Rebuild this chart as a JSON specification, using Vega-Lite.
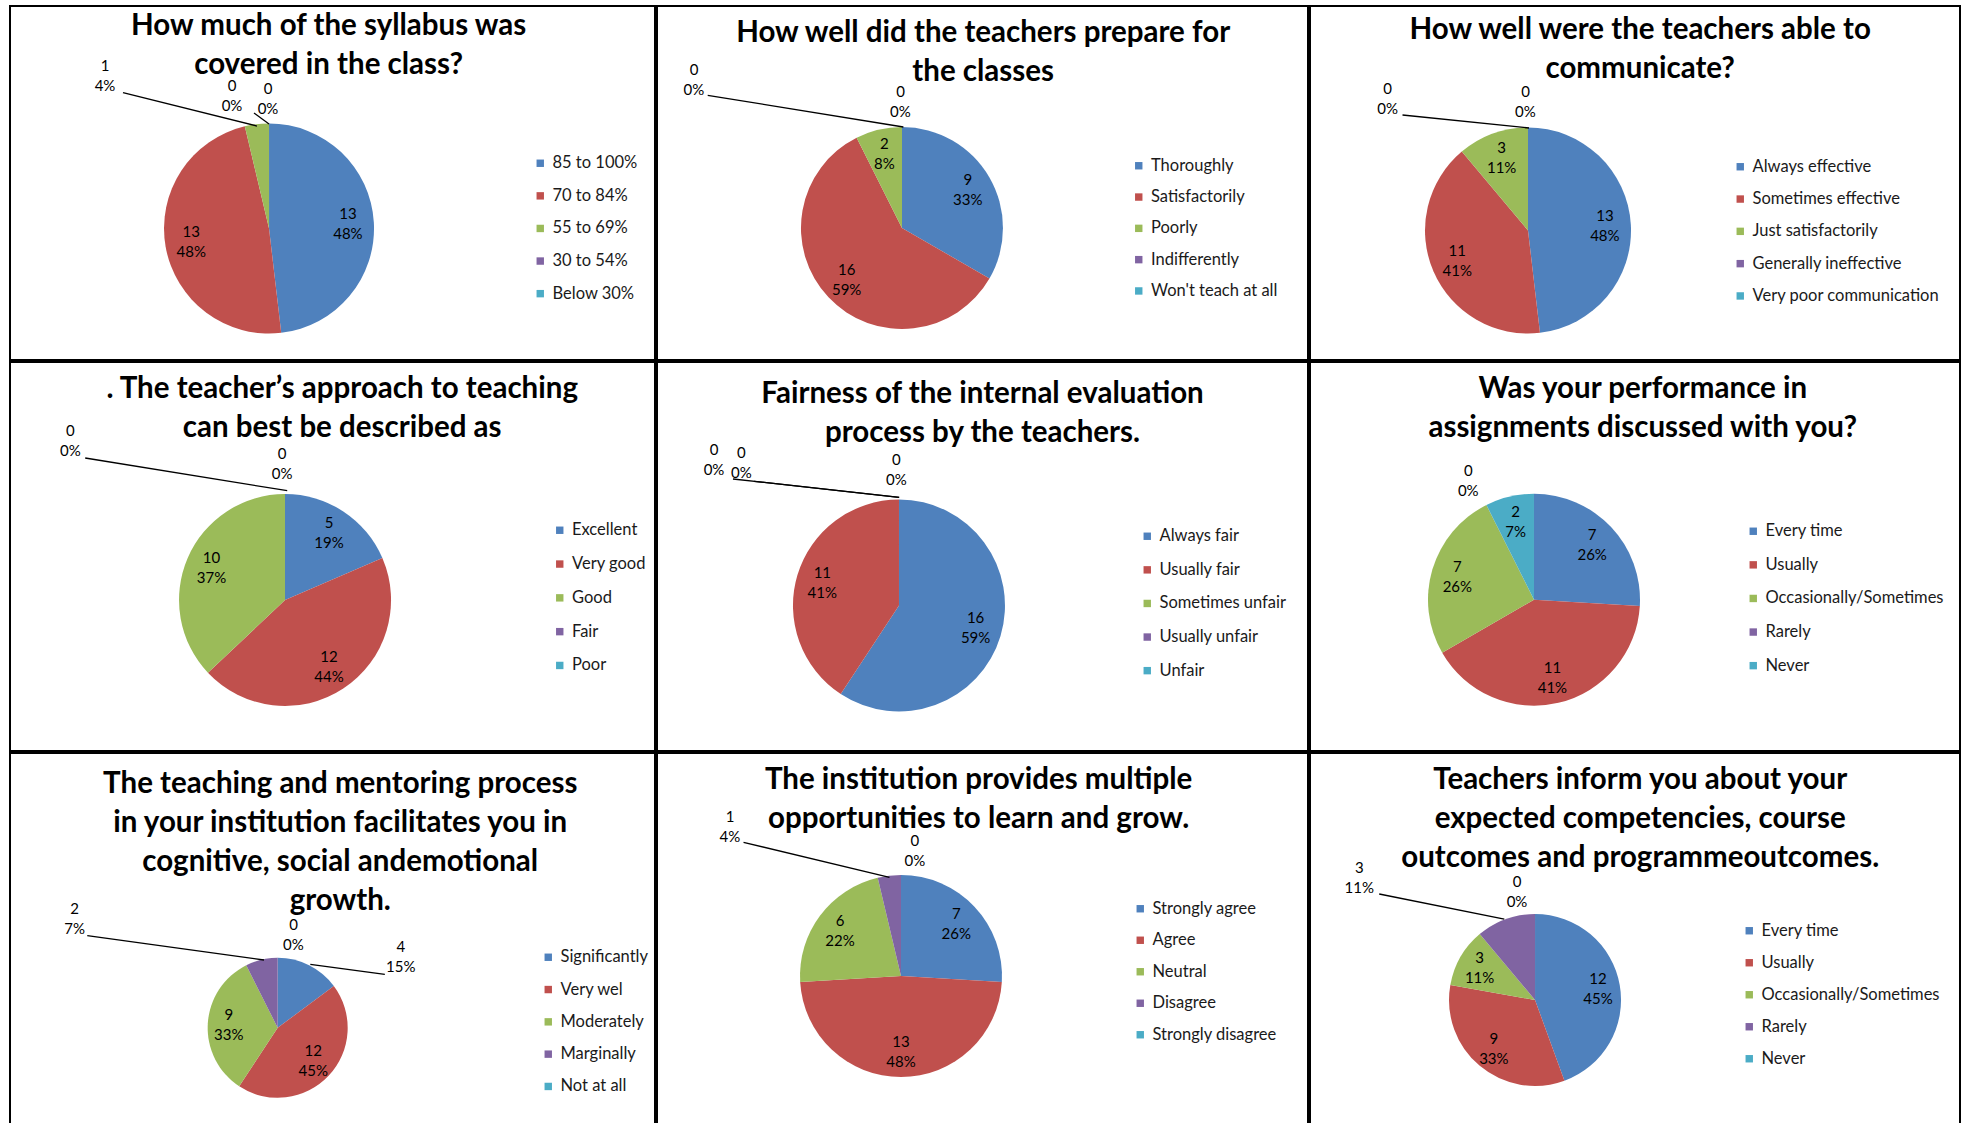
{
"$schema":"https://vega.github.io/schema/vega-lite/v6.json",
"background":"white",
"padding":{"left":9,"top":5,"right":0,"bottom":0},
"spacing":0,
"resolve":{"scale":{"color":"independent","x":"independent","y":"independent"},"legend":{"color":"independent"}},
"config":{
 "view":{"stroke":"black","strokeWidth":2},
 "concat":{"spacing":0},
 "style":{
  "ttl":{"font":"Lato","fontWeight":"bold","fontSize":29.5,"lineHeight":39,"align":"center","baseline":"middle","fill":"black"},
  "lbl":{"font":"Lato","fontSize":15,"lineHeight":20,"lineBreak":"\n","align":"center","baseline":"middle","dy":-10,"fill":"#111111"},
  "ldr":{"stroke":"black","strokeWidth":1.3}
 },
 "legend":{"labelFont":"Lato","labelFontSize":16.5,"labelColor":"#1a1a1a","labelLimit":400,"symbolType":"square","symbolSize":55,"symbolStrokeWidth":0,"padding":0,"labelOffset":4}
},
"datasets":{"survey":[
{"q":1,"o":1,"cat":"85 to 100%","n":13,"pct":"48%"},
{"q":1,"o":2,"cat":"70 to 84%","n":13,"pct":"48%"},
{"q":1,"o":3,"cat":"55 to 69%","n":1,"pct":"4%"},
{"q":1,"o":4,"cat":"30 to 54%","n":0,"pct":"0%"},
{"q":1,"o":5,"cat":"Below 30%","n":0,"pct":"0%"},
{"q":2,"o":1,"cat":"Thoroughly","n":9,"pct":"33%"},
{"q":2,"o":2,"cat":"Satisfactorily","n":16,"pct":"59%"},
{"q":2,"o":3,"cat":"Poorly","n":2,"pct":"8%"},
{"q":2,"o":4,"cat":"Indifferently","n":0,"pct":"0%"},
{"q":2,"o":5,"cat":"Won't teach at all","n":0,"pct":"0%"},
{"q":3,"o":1,"cat":"Always effective","n":13,"pct":"48%"},
{"q":3,"o":2,"cat":"Sometimes effective","n":11,"pct":"41%"},
{"q":3,"o":3,"cat":"Just satisfactorily","n":3,"pct":"11%"},
{"q":3,"o":4,"cat":"Generally ineffective","n":0,"pct":"0%"},
{"q":3,"o":5,"cat":"Very poor communication","n":0,"pct":"0%"},
{"q":4,"o":1,"cat":"Excellent","n":5,"pct":"19%"},
{"q":4,"o":2,"cat":"Very good","n":12,"pct":"44%"},
{"q":4,"o":3,"cat":"Good","n":10,"pct":"37%"},
{"q":4,"o":4,"cat":"Fair","n":0,"pct":"0%"},
{"q":4,"o":5,"cat":"Poor","n":0,"pct":"0%"},
{"q":5,"o":1,"cat":"Always fair","n":16,"pct":"59%"},
{"q":5,"o":2,"cat":"Usually fair","n":11,"pct":"41%"},
{"q":5,"o":3,"cat":"Sometimes unfair","n":0,"pct":"0%"},
{"q":5,"o":4,"cat":"Usually unfair","n":0,"pct":"0%"},
{"q":5,"o":5,"cat":"Unfair","n":0,"pct":"0%"},
{"q":6,"o":1,"cat":"Every time","n":7,"pct":"26%"},
{"q":6,"o":2,"cat":"Usually","n":11,"pct":"41%"},
{"q":6,"o":3,"cat":"Occasionally/Sometimes","n":7,"pct":"26%"},
{"q":6,"o":4,"cat":"Rarely","n":0,"pct":"0%"},
{"q":6,"o":5,"cat":"Never","n":2,"pct":"7%"},
{"q":7,"o":1,"cat":"Significantly","n":4,"pct":"15%"},
{"q":7,"o":2,"cat":"Very wel","n":12,"pct":"45%"},
{"q":7,"o":3,"cat":"Moderately","n":9,"pct":"33%"},
{"q":7,"o":4,"cat":"Marginally","n":2,"pct":"7%"},
{"q":7,"o":5,"cat":"Not at all","n":0,"pct":"0%"},
{"q":8,"o":1,"cat":"Strongly agree","n":7,"pct":"26%"},
{"q":8,"o":2,"cat":"Agree","n":13,"pct":"48%"},
{"q":8,"o":3,"cat":"Neutral","n":6,"pct":"22%"},
{"q":8,"o":4,"cat":"Disagree","n":1,"pct":"4%"},
{"q":8,"o":5,"cat":"Strongly disagree","n":0,"pct":"0%"},
{"q":9,"o":1,"cat":"Every time","n":12,"pct":"45%"},
{"q":9,"o":2,"cat":"Usually","n":9,"pct":"33%"},
{"q":9,"o":3,"cat":"Occasionally/Sometimes","n":3,"pct":"11%"},
{"q":9,"o":4,"cat":"Rarely","n":3,"pct":"11%"},
{"q":9,"o":5,"cat":"Never","n":0,"pct":"0%"}
]},
"vconcat":[
{"spacing":0,"resolve":{"scale":{"color":"independent","x":"independent","y":"independent"},"legend":{"color":"independent"}},
 "hconcat":[
 {"width":645,"height":354,"data":{"name":"survey"},
  "transform":[{"filter":"datum.q == 1"},{"window":[{"op":"sum","field":"n","as":"end"}],"sort":[{"field":"o"}],"frame":[null,0]},{"calculate":"datum.end - datum.n","as":"start"},{"calculate":"datum.end - datum.n / 2","as":"mid"},{"calculate":"datum.n + '\\n' + datum.pct","as":"label"}],
  "layer":[
   {"transform":[{"filter":"datum.o == 1"}],"mark":{"type":"text","style":"ttl"},"encoding":{"x":{"datum":49.4,"type":"quantitative","scale":{"domain":[0,100]},"axis":null,"stack":null},"y":{"datum":5.65,"type":"quantitative","scale":{"domain":[0,100],"reverse":true},"axis":null,"stack":null},"text":{"value":["How much of the syllabus was","covered in the class?"]}}},
   {"mark":{"type":"arc","radius":105},"encoding":{"x":{"datum":40.16,"type":"quantitative","scale":{"domain":[0,100]},"axis":null,"stack":null},"y":{"datum":62.85,"type":"quantitative","scale":{"domain":[0,100],"reverse":true},"axis":null,"stack":null},"theta":{"field":"start","type":"quantitative","scale":{"domain":[0,27]}},"theta2":{"field":"end"},"color":{"field":"cat","type":"nominal","sort":{"field":"o","op":"min"},"scale":{"range":["#4F81BD","#C0504D","#9BBB59","#8064A2","#4BACC6"]},"legend":{"title":null,"orient":"none","legendX":522,"legendY":149,"rowPadding":15.6}}}},
   {"transform":[{"filter":"datum.n > 0 && datum.o != 3"}],"mark":{"type":"text","style":"lbl","radius":79},"encoding":{"x":{"datum":40.16,"type":"quantitative","scale":{"domain":[0,100]},"axis":null,"stack":null},"y":{"datum":62.85,"type":"quantitative","scale":{"domain":[0,100],"reverse":true},"axis":null,"stack":null},"theta":{"field":"mid","type":"quantitative","scale":{"domain":[0,27]}},"text":{"field":"label"}}},
   {"transform":[{"filter":"datum.o == 3"}],"mark":{"type":"text","style":"lbl"},"encoding":{"x":{"datum":14.73,"type":"quantitative","scale":{"domain":[0,100]},"axis":null,"stack":null},"y":{"datum":19.77,"type":"quantitative","scale":{"domain":[0,100],"reverse":true},"axis":null,"stack":null},"text":{"field":"label"}}},
   {"transform":[{"filter":"datum.o == 4"}],"mark":{"type":"text","style":"lbl"},"encoding":{"x":{"datum":34.42,"type":"quantitative","scale":{"domain":[0,100]},"axis":null,"stack":null},"y":{"datum":25.56,"type":"quantitative","scale":{"domain":[0,100],"reverse":true},"axis":null,"stack":null},"text":{"field":"label"}}},
   {"transform":[{"filter":"datum.o == 5"}],"mark":{"type":"text","style":"lbl"},"encoding":{"x":{"datum":40.0,"type":"quantitative","scale":{"domain":[0,100]},"axis":null,"stack":null},"y":{"datum":26.27,"type":"quantitative","scale":{"domain":[0,100],"reverse":true},"axis":null,"stack":null},"text":{"field":"label"}}},
   {"transform":[{"filter":"datum.o == 3"}],"mark":{"type":"rule","style":"ldr"},"encoding":{"x":{"datum":17.52,"type":"quantitative","scale":{"domain":[0,100]},"axis":null,"stack":null},"y":{"datum":24.49,"type":"quantitative","scale":{"domain":[0,100],"reverse":true},"axis":null,"stack":null},"x2":{"datum":38.29},"y2":{"datum":33.9}}},
   {"transform":[{"filter":"datum.o == 5"}],"mark":{"type":"rule","style":"ldr"},"encoding":{"x":{"datum":37.83,"type":"quantitative","scale":{"domain":[0,100]},"axis":null,"stack":null},"y":{"datum":30.23,"type":"quantitative","scale":{"domain":[0,100],"reverse":true},"axis":null,"stack":null},"x2":{"datum":40.16},"y2":{"datum":33.33}}}
  ]},
 {"width":651,"height":354,"data":{"name":"survey"},
  "transform":[{"filter":"datum.q == 2"},{"window":[{"op":"sum","field":"n","as":"end"}],"sort":[{"field":"o"}],"frame":[null,0]},{"calculate":"datum.end - datum.n","as":"start"},{"calculate":"datum.end - datum.n / 2","as":"mid"},{"calculate":"datum.n + '\\n' + datum.pct","as":"label"}],
  "layer":[
   {"transform":[{"filter":"datum.o == 1"}],"mark":{"type":"text","style":"ttl"},"encoding":{"x":{"datum":50.1,"type":"quantitative","scale":{"domain":[0,100]},"axis":null,"stack":null},"y":{"datum":7.54,"type":"quantitative","scale":{"domain":[0,100],"reverse":true},"axis":null,"stack":null},"text":{"value":["How well did the teachers prepare for","the classes"]}}},
   {"mark":{"type":"arc","radius":101},"encoding":{"x":{"datum":37.63,"type":"quantitative","scale":{"domain":[0,100]},"axis":null,"stack":null},"y":{"datum":62.71,"type":"quantitative","scale":{"domain":[0,100],"reverse":true},"axis":null,"stack":null},"theta":{"field":"start","type":"quantitative","scale":{"domain":[0,27]}},"theta2":{"field":"end"},"color":{"field":"cat","type":"nominal","sort":{"field":"o","op":"min"},"scale":{"range":["#4F81BD","#C0504D","#9BBB59","#8064A2","#4BACC6"]},"legend":{"title":null,"orient":"none","legendX":473.5,"legendY":151.5,"rowPadding":14.3}}}},
   {"transform":[{"filter":"datum.n > 0"}],"mark":{"type":"text","style":"lbl","radius":76},"encoding":{"x":{"datum":37.63,"type":"quantitative","scale":{"domain":[0,100]},"axis":null,"stack":null},"y":{"datum":62.71,"type":"quantitative","scale":{"domain":[0,100],"reverse":true},"axis":null,"stack":null},"theta":{"field":"mid","type":"quantitative","scale":{"domain":[0,27]}},"text":{"field":"label"}}},
   {"transform":[{"filter":"datum.o == 4"}],"mark":{"type":"text","style":"lbl"},"encoding":{"x":{"datum":5.68,"type":"quantitative","scale":{"domain":[0,100]},"axis":null,"stack":null},"y":{"datum":20.9,"type":"quantitative","scale":{"domain":[0,100],"reverse":true},"axis":null,"stack":null},"text":{"field":"label"}}},
   {"transform":[{"filter":"datum.o == 5"}],"mark":{"type":"text","style":"lbl"},"encoding":{"x":{"datum":37.4,"type":"quantitative","scale":{"domain":[0,100]},"axis":null,"stack":null},"y":{"datum":26.98,"type":"quantitative","scale":{"domain":[0,100],"reverse":true},"axis":null,"stack":null},"text":{"field":"label"}}},
   {"transform":[{"filter":"datum.o == 4"}],"mark":{"type":"rule","style":"ldr"},"encoding":{"x":{"datum":7.79,"type":"quantitative","scale":{"domain":[0,100]},"axis":null,"stack":null},"y":{"datum":25.23,"type":"quantitative","scale":{"domain":[0,100],"reverse":true},"axis":null,"stack":null},"x2":{"datum":37.85},"y2":{"datum":34.18}}}
  ]},
 {"width":650,"height":354,"data":{"name":"survey"},
  "transform":[{"filter":"datum.q == 3"},{"window":[{"op":"sum","field":"n","as":"end"}],"sort":[{"field":"o"}],"frame":[null,0]},{"calculate":"datum.end - datum.n","as":"start"},{"calculate":"datum.end - datum.n / 2","as":"mid"},{"calculate":"datum.n + '\\n' + datum.pct","as":"label"}],
  "layer":[
   {"transform":[{"filter":"datum.o == 1"}],"mark":{"type":"text","style":"ttl"},"encoding":{"x":{"datum":50.8,"type":"quantitative","scale":{"domain":[0,100]},"axis":null,"stack":null},"y":{"datum":6.86,"type":"quantitative","scale":{"domain":[0,100],"reverse":true},"axis":null,"stack":null},"text":{"value":["How well were the teachers able to","communicate?"]}}},
   {"mark":{"type":"arc","radius":103},"encoding":{"x":{"datum":33.54,"type":"quantitative","scale":{"domain":[0,100]},"axis":null,"stack":null},"y":{"datum":63.42,"type":"quantitative","scale":{"domain":[0,100],"reverse":true},"axis":null,"stack":null},"theta":{"field":"start","type":"quantitative","scale":{"domain":[0,27]}},"theta2":{"field":"end"},"color":{"field":"cat","type":"nominal","sort":{"field":"o","op":"min"},"scale":{"range":["#4F81BD","#C0504D","#9BBB59","#8064A2","#4BACC6"]},"legend":{"title":null,"orient":"none","legendX":422,"legendY":152.5,"rowPadding":15.3}}}},
   {"transform":[{"filter":"datum.n > 0"}],"mark":{"type":"text","style":"lbl","radius":77},"encoding":{"x":{"datum":33.54,"type":"quantitative","scale":{"domain":[0,100]},"axis":null,"stack":null},"y":{"datum":63.42,"type":"quantitative","scale":{"domain":[0,100],"reverse":true},"axis":null,"stack":null},"theta":{"field":"mid","type":"quantitative","scale":{"domain":[0,27]}},"text":{"field":"label"}}},
   {"transform":[{"filter":"datum.o == 4"}],"mark":{"type":"text","style":"lbl"},"encoding":{"x":{"datum":11.95,"type":"quantitative","scale":{"domain":[0,100]},"axis":null,"stack":null},"y":{"datum":26.13,"type":"quantitative","scale":{"domain":[0,100],"reverse":true},"axis":null,"stack":null},"text":{"field":"label"}}},
   {"transform":[{"filter":"datum.o == 5"}],"mark":{"type":"text","style":"lbl"},"encoding":{"x":{"datum":33.15,"type":"quantitative","scale":{"domain":[0,100]},"axis":null,"stack":null},"y":{"datum":27.06,"type":"quantitative","scale":{"domain":[0,100],"reverse":true},"axis":null,"stack":null},"text":{"field":"label"}}},
   {"transform":[{"filter":"datum.o == 4"}],"mark":{"type":"rule","style":"ldr"},"encoding":{"x":{"datum":14.23,"type":"quantitative","scale":{"domain":[0,100]},"axis":null,"stack":null},"y":{"datum":30.79,"type":"quantitative","scale":{"domain":[0,100],"reverse":true},"axis":null,"stack":null},"x2":{"datum":33.69},"y2":{"datum":34.46}}}
  ]}
 ]},
{"spacing":0,"resolve":{"scale":{"color":"independent","x":"independent","y":"independent"},"legend":{"color":"independent"}},
 "hconcat":[
 {"width":645,"height":389,"data":{"name":"survey"},
  "transform":[{"filter":"datum.q == 4"},{"window":[{"op":"sum","field":"n","as":"end"}],"sort":[{"field":"o"}],"frame":[null,0]},{"calculate":"datum.end - datum.n","as":"start"},{"calculate":"datum.end - datum.n / 2","as":"mid"},{"calculate":"datum.n + '\\n' + datum.pct","as":"label"}],
  "layer":[
   {"transform":[{"filter":"datum.o == 1"}],"mark":{"type":"text","style":"ttl"},"encoding":{"x":{"datum":51.5,"type":"quantitative","scale":{"domain":[0,100]},"axis":null,"stack":null},"y":{"datum":6.94,"type":"quantitative","scale":{"domain":[0,100],"reverse":true},"axis":null,"stack":null},"text":{"value":[". The teacher’s approach to teaching","can best be described as"]}}},
   {"mark":{"type":"arc","radius":106},"encoding":{"x":{"datum":42.64,"type":"quantitative","scale":{"domain":[0,100]},"axis":null,"stack":null},"y":{"datum":61.18,"type":"quantitative","scale":{"domain":[0,100],"reverse":true},"axis":null,"stack":null},"theta":{"field":"start","type":"quantitative","scale":{"domain":[0,27]}},"theta2":{"field":"end"},"color":{"field":"cat","type":"nominal","sort":{"field":"o","op":"min"},"scale":{"range":["#4F81BD","#C0504D","#9BBB59","#8064A2","#4BACC6"]},"legend":{"title":null,"orient":"none","legendX":541.5,"legendY":160,"rowPadding":16.8}}}},
   {"transform":[{"filter":"datum.n > 0"}],"mark":{"type":"text","style":"lbl","radius":80},"encoding":{"x":{"datum":42.64,"type":"quantitative","scale":{"domain":[0,100]},"axis":null,"stack":null},"y":{"datum":61.18,"type":"quantitative","scale":{"domain":[0,100],"reverse":true},"axis":null,"stack":null},"theta":{"field":"mid","type":"quantitative","scale":{"domain":[0,27]}},"text":{"field":"label"}}},
   {"transform":[{"filter":"datum.o == 4"}],"mark":{"type":"text","style":"lbl"},"encoding":{"x":{"datum":9.36,"type":"quantitative","scale":{"domain":[0,100]},"axis":null,"stack":null},"y":{"datum":20.18,"type":"quantitative","scale":{"domain":[0,100],"reverse":true},"axis":null,"stack":null},"text":{"field":"label"}}},
   {"transform":[{"filter":"datum.o == 5"}],"mark":{"type":"text","style":"lbl"},"encoding":{"x":{"datum":42.19,"type":"quantitative","scale":{"domain":[0,100]},"axis":null,"stack":null},"y":{"datum":26.17,"type":"quantitative","scale":{"domain":[0,100],"reverse":true},"axis":null,"stack":null},"text":{"field":"label"}}},
   {"transform":[{"filter":"datum.o == 4"}],"mark":{"type":"rule","style":"ldr"},"encoding":{"x":{"datum":11.66,"type":"quantitative","scale":{"domain":[0,100]},"axis":null,"stack":null},"y":{"datum":24.68,"type":"quantitative","scale":{"domain":[0,100],"reverse":true},"axis":null,"stack":null},"x2":{"datum":42.98},"y2":{"datum":33.08}}}
  ]},
 {"width":651,"height":389,"data":{"name":"survey"},
  "transform":[{"filter":"datum.q == 5"},{"window":[{"op":"sum","field":"n","as":"end"}],"sort":[{"field":"o"}],"frame":[null,0]},{"calculate":"datum.end - datum.n","as":"start"},{"calculate":"datum.end - datum.n / 2","as":"mid"},{"calculate":"datum.n + '\\n' + datum.pct","as":"label"}],
  "layer":[
   {"transform":[{"filter":"datum.o == 1"}],"mark":{"type":"text","style":"ttl"},"encoding":{"x":{"datum":50.0,"type":"quantitative","scale":{"domain":[0,100]},"axis":null,"stack":null},"y":{"datum":8.15,"type":"quantitative","scale":{"domain":[0,100],"reverse":true},"axis":null,"stack":null},"text":{"value":["Fairness of the internal evaluation","process by the teachers."]}}},
   {"mark":{"type":"arc","radius":106},"encoding":{"x":{"datum":37.17,"type":"quantitative","scale":{"domain":[0,100]},"axis":null,"stack":null},"y":{"datum":62.6,"type":"quantitative","scale":{"domain":[0,100],"reverse":true},"axis":null,"stack":null},"theta":{"field":"start","type":"quantitative","scale":{"domain":[0,27]}},"theta2":{"field":"end"},"color":{"field":"cat","type":"nominal","sort":{"field":"o","op":"min"},"scale":{"range":["#4F81BD","#C0504D","#9BBB59","#8064A2","#4BACC6"]},"legend":{"title":null,"orient":"none","legendX":482,"legendY":166,"rowPadding":16.6}}}},
   {"transform":[{"filter":"datum.n > 0"}],"mark":{"type":"text","style":"lbl","radius":80},"encoding":{"x":{"datum":37.17,"type":"quantitative","scale":{"domain":[0,100]},"axis":null,"stack":null},"y":{"datum":62.6,"type":"quantitative","scale":{"domain":[0,100],"reverse":true},"axis":null,"stack":null},"theta":{"field":"mid","type":"quantitative","scale":{"domain":[0,27]}},"text":{"field":"label"}}},
   {"transform":[{"filter":"datum.o == 3"}],"mark":{"type":"text","style":"lbl"},"encoding":{"x":{"datum":8.76,"type":"quantitative","scale":{"domain":[0,100]},"axis":null,"stack":null},"y":{"datum":25.12,"type":"quantitative","scale":{"domain":[0,100],"reverse":true},"axis":null,"stack":null},"text":{"field":"label"}}},
   {"transform":[{"filter":"datum.o == 4"}],"mark":{"type":"text","style":"lbl"},"encoding":{"x":{"datum":12.96,"type":"quantitative","scale":{"domain":[0,100]},"axis":null,"stack":null},"y":{"datum":25.89,"type":"quantitative","scale":{"domain":[0,100],"reverse":true},"axis":null,"stack":null},"text":{"field":"label"}}},
   {"transform":[{"filter":"datum.o == 5"}],"mark":{"type":"text","style":"lbl"},"encoding":{"x":{"datum":36.76,"type":"quantitative","scale":{"domain":[0,100]},"axis":null,"stack":null},"y":{"datum":27.69,"type":"quantitative","scale":{"domain":[0,100],"reverse":true},"axis":null,"stack":null},"text":{"field":"label"}}},
   {"transform":[{"filter":"datum.o == 3"}],"mark":{"type":"rule","style":"ldr"},"encoding":{"x":{"datum":11.67,"type":"quantitative","scale":{"domain":[0,100]},"axis":null,"stack":null},"y":{"datum":30.08,"type":"quantitative","scale":{"domain":[0,100],"reverse":true},"axis":null,"stack":null},"x2":{"datum":37.2},"y2":{"datum":34.78}}},
   {"transform":[{"filter":"datum.o == 4"}],"mark":{"type":"rule","style":"ldr"},"encoding":{"x":{"datum":14.9,"type":"quantitative","scale":{"domain":[0,100]},"axis":null,"stack":null},"y":{"datum":30.67,"type":"quantitative","scale":{"domain":[0,100],"reverse":true},"axis":null,"stack":null},"x2":{"datum":37.2},"y2":{"datum":34.78}}}
  ]},
 {"width":650,"height":389,"data":{"name":"survey"},
  "transform":[{"filter":"datum.q == 6"},{"window":[{"op":"sum","field":"n","as":"end"}],"sort":[{"field":"o"}],"frame":[null,0]},{"calculate":"datum.end - datum.n","as":"start"},{"calculate":"datum.end - datum.n / 2","as":"mid"},{"calculate":"datum.n + '\\n' + datum.pct","as":"label"}],
  "layer":[
   {"transform":[{"filter":"datum.o == 1"}],"mark":{"type":"text","style":"ttl"},"encoding":{"x":{"datum":51.2,"type":"quantitative","scale":{"domain":[0,100]},"axis":null,"stack":null},"y":{"datum":6.94,"type":"quantitative","scale":{"domain":[0,100],"reverse":true},"axis":null,"stack":null},"text":{"value":["Was your performance in","assignments discussed with you?"]}}},
   {"mark":{"type":"arc","radius":106},"encoding":{"x":{"datum":34.46,"type":"quantitative","scale":{"domain":[0,100]},"axis":null,"stack":null},"y":{"datum":61.11,"type":"quantitative","scale":{"domain":[0,100],"reverse":true},"axis":null,"stack":null},"theta":{"field":"start","type":"quantitative","scale":{"domain":[0,27]}},"theta2":{"field":"end"},"color":{"field":"cat","type":"nominal","sort":{"field":"o","op":"min"},"scale":{"range":["#4F81BD","#C0504D","#9BBB59","#8064A2","#4BACC6"]},"legend":{"title":null,"orient":"none","legendX":435,"legendY":161,"rowPadding":16.6}}}},
   {"transform":[{"filter":"datum.n > 0"}],"mark":{"type":"text","style":"lbl","radius":80},"encoding":{"x":{"datum":34.46,"type":"quantitative","scale":{"domain":[0,100]},"axis":null,"stack":null},"y":{"datum":61.11,"type":"quantitative","scale":{"domain":[0,100],"reverse":true},"axis":null,"stack":null},"theta":{"field":"mid","type":"quantitative","scale":{"domain":[0,27]}},"text":{"field":"label"}}},
   {"transform":[{"filter":"datum.o == 4"}],"mark":{"type":"text","style":"lbl"},"encoding":{"x":{"datum":24.35,"type":"quantitative","scale":{"domain":[0,100]},"axis":null,"stack":null},"y":{"datum":30.64,"type":"quantitative","scale":{"domain":[0,100],"reverse":true},"axis":null,"stack":null},"text":{"field":"label"}}}
  ]}
 ]},
{"spacing":0,"resolve":{"scale":{"color":"independent","x":"independent","y":"independent"},"legend":{"color":"independent"}},
 "hconcat":[
 {"width":645,"height":374,"data":{"name":"survey"},
  "transform":[{"filter":"datum.q == 7"},{"window":[{"op":"sum","field":"n","as":"end"}],"sort":[{"field":"o"}],"frame":[null,0]},{"calculate":"datum.end - datum.n","as":"start"},{"calculate":"datum.end - datum.n / 2","as":"mid"},{"calculate":"datum.n + '\\n' + datum.pct","as":"label"}],
  "layer":[
   {"transform":[{"filter":"datum.o == 1"}],"mark":{"type":"text","style":"ttl"},"encoding":{"x":{"datum":51.2,"type":"quantitative","scale":{"domain":[0,100]},"axis":null,"stack":null},"y":{"datum":8.37,"type":"quantitative","scale":{"domain":[0,100],"reverse":true},"axis":null,"stack":null},"text":{"value":["The teaching and mentoring process","in your institution facilitates you in","cognitive, social andemotional","growth."]}}},
   {"mark":{"type":"arc","radius":70},"encoding":{"x":{"datum":41.5,"type":"quantitative","scale":{"domain":[0,100]},"axis":null,"stack":null},"y":{"datum":73.48,"type":"quantitative","scale":{"domain":[0,100],"reverse":true},"axis":null,"stack":null},"theta":{"field":"start","type":"quantitative","scale":{"domain":[0,27]}},"theta2":{"field":"end"},"color":{"field":"cat","type":"nominal","sort":{"field":"o","op":"min"},"scale":{"range":["#4F81BD","#C0504D","#9BBB59","#8064A2","#4BACC6"]},"legend":{"title":null,"orient":"none","legendX":530,"legendY":196,"rowPadding":15.3}}}},
   {"transform":[{"filter":"datum.n > 0 && datum.o != 1 && datum.o != 4"}],"mark":{"type":"text","style":"lbl","radius":49},"encoding":{"x":{"datum":41.5,"type":"quantitative","scale":{"domain":[0,100]},"axis":null,"stack":null},"y":{"datum":73.48,"type":"quantitative","scale":{"domain":[0,100],"reverse":true},"axis":null,"stack":null},"theta":{"field":"mid","type":"quantitative","scale":{"domain":[0,27]}},"text":{"field":"label"}}},
   {"transform":[{"filter":"datum.o == 4"}],"mark":{"type":"text","style":"lbl"},"encoding":{"x":{"datum":10.03,"type":"quantitative","scale":{"domain":[0,100]},"axis":null,"stack":null},"y":{"datum":44.3,"type":"quantitative","scale":{"domain":[0,100],"reverse":true},"axis":null,"stack":null},"text":{"field":"label"}}},
   {"transform":[{"filter":"datum.o == 5"}],"mark":{"type":"text","style":"lbl"},"encoding":{"x":{"datum":43.95,"type":"quantitative","scale":{"domain":[0,100]},"axis":null,"stack":null},"y":{"datum":48.66,"type":"quantitative","scale":{"domain":[0,100],"reverse":true},"axis":null,"stack":null},"text":{"field":"label"}}},
   {"transform":[{"filter":"datum.o == 1"}],"mark":{"type":"text","style":"lbl"},"encoding":{"x":{"datum":60.59,"type":"quantitative","scale":{"domain":[0,100]},"axis":null,"stack":null},"y":{"datum":54.47,"type":"quantitative","scale":{"domain":[0,100],"reverse":true},"axis":null,"stack":null},"text":{"field":"label"}}},
   {"transform":[{"filter":"datum.o == 4"}],"mark":{"type":"rule","style":"ldr"},"encoding":{"x":{"datum":11.98,"type":"quantitative","scale":{"domain":[0,100]},"axis":null,"stack":null},"y":{"datum":48.85,"type":"quantitative","scale":{"domain":[0,100],"reverse":true},"axis":null,"stack":null},"x2":{"datum":39.38},"y2":{"datum":55.35}}},
   {"transform":[{"filter":"datum.o == 1"}],"mark":{"type":"rule","style":"ldr"},"encoding":{"x":{"datum":58.11,"type":"quantitative","scale":{"domain":[0,100]},"axis":null,"stack":null},"y":{"datum":59.17,"type":"quantitative","scale":{"domain":[0,100],"reverse":true},"axis":null,"stack":null},"x2":{"datum":46.56},"y2":{"datum":56.5}}}
  ]},
 {"width":651,"height":374,"data":{"name":"survey"},
  "transform":[{"filter":"datum.q == 8"},{"window":[{"op":"sum","field":"n","as":"end"}],"sort":[{"field":"o"}],"frame":[null,0]},{"calculate":"datum.end - datum.n","as":"start"},{"calculate":"datum.end - datum.n / 2","as":"mid"},{"calculate":"datum.n + '\\n' + datum.pct","as":"label"}],
  "layer":[
   {"transform":[{"filter":"datum.o == 1"}],"mark":{"type":"text","style":"ttl"},"encoding":{"x":{"datum":49.4,"type":"quantitative","scale":{"domain":[0,100]},"axis":null,"stack":null},"y":{"datum":7.22,"type":"quantitative","scale":{"domain":[0,100],"reverse":true},"axis":null,"stack":null},"text":{"value":["The institution provides multiple","opportunities to learn and grow."]}}},
   {"mark":{"type":"arc","radius":101},"encoding":{"x":{"datum":37.48,"type":"quantitative","scale":{"domain":[0,100]},"axis":null,"stack":null},"y":{"datum":59.63,"type":"quantitative","scale":{"domain":[0,100],"reverse":true},"axis":null,"stack":null},"theta":{"field":"start","type":"quantitative","scale":{"domain":[0,27]}},"theta2":{"field":"end"},"color":{"field":"cat","type":"nominal","sort":{"field":"o","op":"min"},"scale":{"range":["#4F81BD","#C0504D","#9BBB59","#8064A2","#4BACC6"]},"legend":{"title":null,"orient":"none","legendX":475,"legendY":147.5,"rowPadding":14.5}}}},
   {"transform":[{"filter":"datum.n > 0 && datum.o != 4"}],"mark":{"type":"text","style":"lbl","radius":76},"encoding":{"x":{"datum":37.48,"type":"quantitative","scale":{"domain":[0,100]},"axis":null,"stack":null},"y":{"datum":59.63,"type":"quantitative","scale":{"domain":[0,100],"reverse":true},"axis":null,"stack":null},"theta":{"field":"mid","type":"quantitative","scale":{"domain":[0,27]}},"text":{"field":"label"}}},
   {"transform":[{"filter":"datum.o == 4"}],"mark":{"type":"text","style":"lbl"},"encoding":{"x":{"datum":11.21,"type":"quantitative","scale":{"domain":[0,100]},"axis":null,"stack":null},"y":{"datum":19.84,"type":"quantitative","scale":{"domain":[0,100],"reverse":true},"axis":null,"stack":null},"text":{"field":"label"}}},
   {"transform":[{"filter":"datum.o == 5"}],"mark":{"type":"text","style":"lbl"},"encoding":{"x":{"datum":39.6,"type":"quantitative","scale":{"domain":[0,100]},"axis":null,"stack":null},"y":{"datum":26.28,"type":"quantitative","scale":{"domain":[0,100],"reverse":true},"axis":null,"stack":null},"text":{"field":"label"}}},
   {"transform":[{"filter":"datum.o == 4"}],"mark":{"type":"rule","style":"ldr"},"encoding":{"x":{"datum":13.29,"type":"quantitative","scale":{"domain":[0,100]},"axis":null,"stack":null},"y":{"datum":23.88,"type":"quantitative","scale":{"domain":[0,100],"reverse":true},"axis":null,"stack":null},"x2":{"datum":35.71},"y2":{"datum":33.24}}}
  ]},
 {"width":650,"height":374,"data":{"name":"survey"},
  "transform":[{"filter":"datum.q == 9"},{"window":[{"op":"sum","field":"n","as":"end"}],"sort":[{"field":"o"}],"frame":[null,0]},{"calculate":"datum.end - datum.n","as":"start"},{"calculate":"datum.end - datum.n / 2","as":"mid"},{"calculate":"datum.n + '\\n' + datum.pct","as":"label"}],
  "layer":[
   {"transform":[{"filter":"datum.o == 1"}],"mark":{"type":"text","style":"ttl"},"encoding":{"x":{"datum":50.8,"type":"quantitative","scale":{"domain":[0,100]},"axis":null,"stack":null},"y":{"datum":7.22,"type":"quantitative","scale":{"domain":[0,100],"reverse":true},"axis":null,"stack":null},"text":{"value":["Teachers inform you about your","expected competencies, course","outcomes and programmeoutcomes."]}}},
   {"mark":{"type":"arc","radius":86},"encoding":{"x":{"datum":34.62,"type":"quantitative","scale":{"domain":[0,100]},"axis":null,"stack":null},"y":{"datum":66.04,"type":"quantitative","scale":{"domain":[0,100],"reverse":true},"axis":null,"stack":null},"theta":{"field":"start","type":"quantitative","scale":{"domain":[0,27]}},"theta2":{"field":"end"},"color":{"field":"cat","type":"nominal","sort":{"field":"o","op":"min"},"scale":{"range":["#4F81BD","#C0504D","#9BBB59","#8064A2","#4BACC6"]},"legend":{"title":null,"orient":"none","legendX":431,"legendY":169.5,"rowPadding":15}}}},
   {"transform":[{"filter":"datum.n > 0 && datum.o != 4"}],"mark":{"type":"text","style":"lbl","radius":64},"encoding":{"x":{"datum":34.62,"type":"quantitative","scale":{"domain":[0,100]},"axis":null,"stack":null},"y":{"datum":66.04,"type":"quantitative","scale":{"domain":[0,100],"reverse":true},"axis":null,"stack":null},"theta":{"field":"mid","type":"quantitative","scale":{"domain":[0,27]}},"text":{"field":"label"}}},
   {"transform":[{"filter":"datum.o == 4"}],"mark":{"type":"text","style":"lbl"},"encoding":{"x":{"datum":7.58,"type":"quantitative","scale":{"domain":[0,100]},"axis":null,"stack":null},"y":{"datum":33.42,"type":"quantitative","scale":{"domain":[0,100],"reverse":true},"axis":null,"stack":null},"text":{"field":"label"}}},
   {"transform":[{"filter":"datum.o == 5"}],"mark":{"type":"text","style":"lbl"},"encoding":{"x":{"datum":31.85,"type":"quantitative","scale":{"domain":[0,100]},"axis":null,"stack":null},"y":{"datum":37.22,"type":"quantitative","scale":{"domain":[0,100],"reverse":true},"axis":null,"stack":null},"text":{"field":"label"}}},
   {"transform":[{"filter":"datum.o == 4"}],"mark":{"type":"rule","style":"ldr"},"encoding":{"x":{"datum":10.65,"type":"quantitative","scale":{"domain":[0,100]},"axis":null,"stack":null},"y":{"datum":37.7,"type":"quantitative","scale":{"domain":[0,100],"reverse":true},"axis":null,"stack":null},"x2":{"datum":29.89},"y2":{"datum":44.39}}}
  ]}
 ]}
]
}
